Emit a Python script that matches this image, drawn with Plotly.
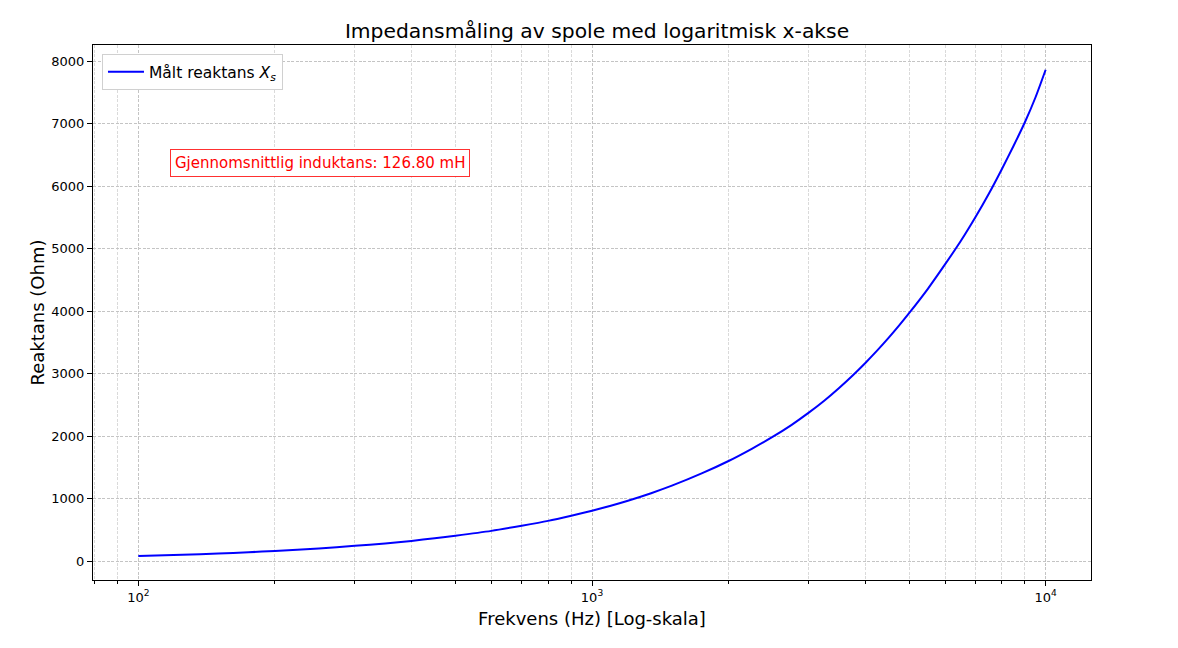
import plotly.graph_objects as go

# ---------------------------------------------
# Data
# ---------------------------------------------
frekvens = [100, 125, 150, 175, 200, 250, 300, 350, 400, 450, 500, 600, 700,
            800, 900, 1000, 1100, 1200, 1350, 1500, 1750, 2000, 2250, 2500,
            2750, 3000, 3250, 3500, 3750, 4000, 4250, 4500, 4750, 5000, 5500,
            6000, 6500, 7000, 7500, 8000, 8500, 9000, 9500, 10000]
reaktans = [80, 100, 120, 140, 162, 200, 243, 282, 322, 365, 405, 482, 565,
            642, 725, 805, 885, 965, 1085, 1205, 1405, 1600, 1795, 1985,
            2175, 2370, 2565, 2765, 2965, 3165, 3365, 3565, 3765, 3965, 4355,
            4745, 5120, 5500, 5880, 6265, 6645, 7020, 7420, 7860]

x_tickvals = [100, 1000, 10000]
x_ticktext = ["10<sup>2</sup>", "10<sup>3</sup>", "10<sup>4</sup>"]
y_tickvals = [0, 1000, 2000, 3000, 4000, 5000, 6000, 7000, 8000]

snitt_induktans_mH = 126.80

font = "DejaVu Sans"

fig = go.Figure()

fig.add_trace(go.Scatter(
    x=frekvens, y=reaktans,
    mode="lines",
    name="Målt reaktans <i>X</i><sub><i>s</i></sub>",
    line=dict(color="#0000ff", width=2, shape="spline", smoothing=0.6),
))

fig.add_annotation(
    x=0.2275, y=0.779, xref="paper", yref="paper",
    xanchor="center", yanchor="middle",
    text=f"Gjennomsnittlig induktans: {snitt_induktans_mH:.2f} mH",
    showarrow=False,
    font=dict(family=font, size=15, color="#ff0000"),
    bgcolor="white", bordercolor="#ff3030", borderwidth=1, borderpad=4,
)

axis_common = dict(
    showline=True, linecolor="black", linewidth=1, mirror=True,
    ticks="outside", ticklen=5, tickcolor="black",
    tickfont=dict(family=font, size=13, color="black"),
    showgrid=True, gridcolor="#c4c4c4", griddash="3px,1.5px", gridwidth=0.8,
    zeroline=False,
)

# siden har 8px marg, derfor er marginene forskjøvet
fig.update_layout(
    width=1178, height=648,
    margin=dict(l=85, r=95, t=37, b=76),
    paper_bgcolor="white", plot_bgcolor="white",
    title=dict(text="Impedansmåling av spole med logaritmisk x-akse",
               x=0.5, xanchor="center", y=0.9645, yanchor="middle",
               font=dict(family=font, size=20.3, color="black")),
    xaxis=dict(
        type="log", range=[1.9, 4.1],
        tickvals=x_tickvals, ticktext=x_ticktext,
        title=dict(text="Frekvens (Hz) [Log-skala]", standoff=8,
                   font=dict(family=font, size=18, color="black")),
        minor=dict(dtick="D1", showgrid=True, gridcolor="#dadada",
                   griddash="3px,1.5px", gridwidth=0.7, ticks="outside",
                   ticklen=3, tickcolor="black"),
        **axis_common,
    ),
    yaxis=dict(
        range=[-304, 8256], tickvals=y_tickvals,
        title=dict(text="Reaktans (Ohm)", standoff=2,
                   font=dict(family=font, size=18, color="black")),
        **axis_common,
    ),
    legend=dict(
        x=0.009, y=0.983, xanchor="left", yanchor="top",
        bgcolor="white", bordercolor="#d0d0d0", borderwidth=1,
        font=dict(family=font, size=15.5, color="black"),
        itemwidth=36,
    ),
    showlegend=True,
)

fig.write_html("out.html")
